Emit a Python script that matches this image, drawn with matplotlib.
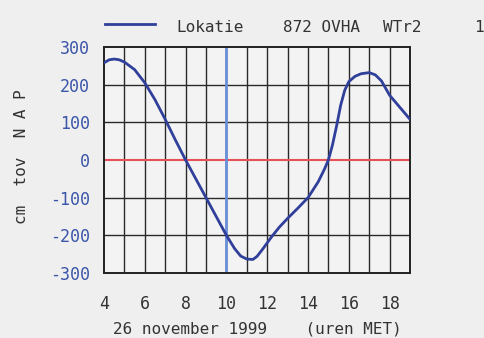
import matplotlib
matplotlib.use('Agg')
import matplotlib.pyplot as plt
from matplotlib.lines import Line2D

plt.rcParams['axes.unicode_minus'] = False

# waterstand Lokatie 872 OVHA, 26 november 1999
uren = [4, 4.25, 4.5, 4.75, 5, 5.5, 6, 6.5, 7, 7.5, 8, 8.5, 9, 9.5, 10,
        10.4, 10.7, 11, 11.3, 11.5, 11.8, 12.2, 12.6, 13, 13.5, 14, 14.5,
        14.8, 15, 15.2, 15.4, 15.6, 15.8, 16, 16.3, 16.6, 17, 17.3, 17.6,
        18, 18.5, 19]
waterstand = [258, 266, 268, 266, 260, 240, 205, 160, 108, 53, 0, -50, -100,
              -150, -200, -235, -255, -263, -264, -256, -235, -205, -178,
              -155, -128, -100, -58, -25, 0, 40, 90, 145, 185, 208, 222, 229,
              232, 226, 210, 172, 140, 108]
x_ticks = [4, 6, 8, 10, 12, 14, 16, 18]
y_ticks = [-300, -200, -100, 0, 100, 200, 300]
nu_uur = 10

fonte = 'DejaVu Sans Mono'
azul_txt = '#3b55a8'
azul_linha = '#2f3f9a'
fundo = '#efefef'

fig = plt.figure(figsize=(4.84, 3.38), dpi=100, facecolor=fundo)
ax = fig.add_axes([104 / 484, 1 - 273 / 338, 306 / 484, 226 / 338])
ax.set_facecolor('#f3f3f3')

# grid: elk uur verticaal, elke 100 cm horizontaal
for h in range(5, 19):
    ax.axvline(h, color='#2a2a2a', lw=1.0, zorder=1)
for v in [-200, -100, 100, 200]:
    ax.axhline(v, color='#2a2a2a', lw=1.0, zorder=1)
ax.axhline(0, color='#e8505a', lw=1.5, zorder=2)
ax.axvline(nu_uur, color='#6a8fd8', lw=2.0, zorder=2)

ax.plot(uren, waterstand, color=azul_linha, lw=2.0, zorder=3,
        solid_capstyle='round', solid_joinstyle='round')

ax.set_xlim(4, 19)
ax.set_ylim(-300, 300)
ax.set_xticks(x_ticks)
ax.set_yticks(y_ticks)
ax.tick_params(length=0, pad=10, labelsize=12)
ax.tick_params(axis='x', pad=16, labelcolor='#333333')
ax.tick_params(axis='y', labelcolor=azul_txt)
for lbl in ax.get_xticklabels() + ax.get_yticklabels():
    lbl.set_fontfamily(fonte)
for s in ax.spines.values():
    s.set_color('#222222')
    s.set_linewidth(1.4)

ax.set_xlabel('26 november 1999    (uren MET)', fontfamily=fonte,
              fontsize=11.5, color='#333333', labelpad=6)
fig.text(22 / 484, 1 - 157 / 338, 'cm  tov  N A P', rotation=90,
         ha='center', va='center', fontfamily=fonte, fontsize=11.5,
         color='#333333')

# kopregel
fig.add_artist(Line2D([105 / 484, 155 / 484], [1 - 24 / 338, 1 - 24 / 338],
                      color=azul_linha, lw=2.0))
for xp, txt in [(176, 'Lokatie'), (283, '872 OVHA'), (383, 'WTr2'), (474, '1')]:
    fig.text(xp / 484, 1 - 27 / 338, txt, ha='left', va='center',
             fontfamily=fonte, fontsize=11.5, color='#333333')

fig.savefig('out.png', dpi=100, facecolor=fundo)
